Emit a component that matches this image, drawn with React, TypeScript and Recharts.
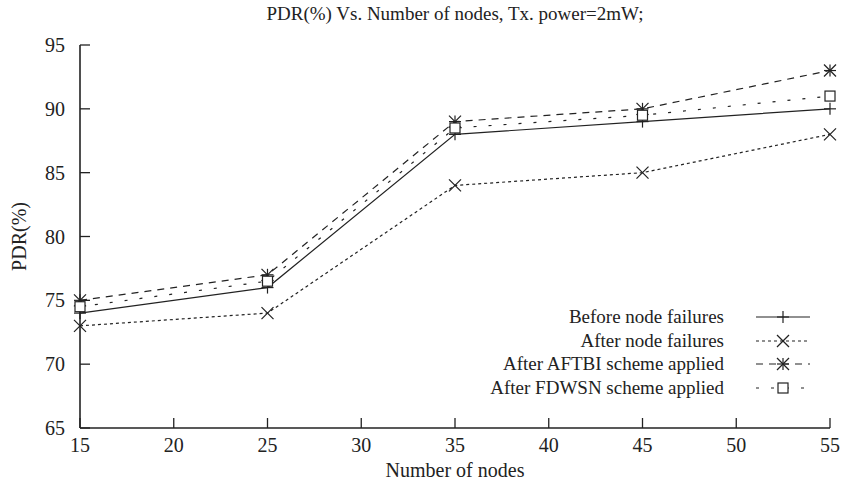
import React from "react";
import { Legend, Line, LineChart, XAxis, YAxis } from "recharts";

const nodes = [15, 25, 35, 45, 55];
const beforeFailures = [74, 76, 88, 89, 90];
const afterFailures = [73, 74, 84, 85, 88];
const afterAftbi = [75, 77, 89, 90, 93];
const afterFdwsn = [74.5, 76.5, 88.5, 89.5, 91];

const xTicks = [15, 20, 25, 30, 35, 40, 45, 50, 55];
const yTicks = [65, 70, 75, 80, 85, 90, 95];

const data = nodes.map((n, i) => ({
  n,
  before: beforeFailures[i],
  after: afterFailures[i],
  aftbi: afterAftbi[i],
  fdwsn: afterFdwsn[i],
}));

const FONT = "'Liberation Serif', 'Times New Roman', serif";
const INK = "#222";

type Kind = "plus" | "cross" | "star" | "square";

const series: { key: string; name: string; kind: Kind; dash?: string }[] = [
  { key: "before", name: "Before node failures", kind: "plus" },
  { key: "after", name: "After node failures", kind: "cross", dash: "3 3" },
  { key: "aftbi", name: "After AFTBI scheme applied", kind: "star", dash: "7 6" },
  { key: "fdwsn", name: "After FDWSN scheme applied", kind: "square", dash: "3 12" },
];

function Marker({ cx, cy, kind }: { cx: number; cy: number; kind: Kind }) {
  const s = 6;
  const st = { stroke: INK, strokeWidth: 1.2, fill: "none" };
  if (kind === "square")
    return <rect x={cx - 5} y={cy - 5} width={10} height={10} {...st} fill="#fff" />;
  const plus = (
    <>
      <line x1={cx - s} y1={cy} x2={cx + s} y2={cy} {...st} />
      <line x1={cx} y1={cy - s} x2={cx} y2={cy + s} {...st} />
    </>
  );
  const cross = (
    <>
      <line x1={cx - s} y1={cy - s} x2={cx + s} y2={cy + s} {...st} />
      <line x1={cx - s} y1={cy + s} x2={cx + s} y2={cy - s} {...st} />
    </>
  );
  return (
    <g>
      {kind !== "cross" && plus}
      {kind !== "plus" && cross}
    </g>
  );
}

const BottomTick = (p: any) => (
  <g>
    <line x1={p.x} y1={p.y} x2={p.x} y2={p.y - 10} stroke={INK} strokeWidth={1.3} />
    <text x={p.x} y={p.y + 24} textAnchor="middle" fontSize={20} fontFamily={FONT} fill={INK}>
      {p.payload.value}
    </text>
  </g>
);
const TopTick = (p: any) => (
  <line x1={p.x} y1={p.y} x2={p.x} y2={p.y + 10} stroke={INK} strokeWidth={1.3} />
);
const LeftTick = (p: any) => (
  <g>
    <line x1={p.x} y1={p.y} x2={p.x + 10} y2={p.y} stroke={INK} strokeWidth={1.3} />
    <text x={p.x - 15} y={p.y + 7} textAnchor="end" fontSize={20} fontFamily={FONT} fill={INK}>
      {p.payload.value}
    </text>
  </g>
);
const RightTick = (p: any) => (
  <line x1={p.x} y1={p.y} x2={p.x - 10} y2={p.y} stroke={INK} strokeWidth={1.3} />
);

function LegendBox() {
  return (
    <div style={{ fontFamily: FONT, fontSize: 19, color: INK }}>
      {series.map((s) => (
        <div
          key={s.key}
          style={{ display: "flex", alignItems: "center", height: 23.7, justifyContent: "flex-end" }}
        >
          <span style={{ marginRight: 32, whiteSpace: "nowrap" }}>{s.name}</span>
          <svg width={54} height={20} style={{ display: "block" }}>
            <line x1={0} y1={10} x2={54} y2={10} stroke={INK} strokeWidth={1.2} strokeDasharray={s.dash} />
            <Marker cx={27} cy={10} kind={s.kind} />
          </svg>
        </div>
      ))}
    </div>
  );
}

export default function App() {
  return (
    <div style={{ position: "absolute", left: 0, top: 0, width: 841, height: 481, background: "#fff" }}>
      <div
        style={{
          position: "absolute",
          left: 80,
          width: 750,
          top: 3,
          textAlign: "center",
          fontFamily: FONT,
          fontSize: 19,
          color: INK,
        }}
      >
        PDR(%) Vs. Number of nodes, Tx. power=2mW;
      </div>
      <LineChart width={841} height={481} data={data} margin={{ top: 45, right: 11, left: 0, bottom: 0 }}>
        <XAxis
          xAxisId="b"
          dataKey="n"
          type="number"
          domain={[15, 55]}
          ticks={xTicks}
          height={53}
          tickSize={0}
          tickMargin={0}
          tickLine={false}
          tick={BottomTick}
          axisLine={{ stroke: INK, strokeWidth: 1.6 }}
          label={{
            value: "Number of nodes",
            position: "insideBottom",
            offset: 4,
            fontSize: 20,
            fontFamily: FONT,
            fill: INK,
          }}
        />
        <XAxis
          xAxisId="t"
          orientation="top"
          dataKey="n"
          type="number"
          domain={[15, 55]}
          ticks={xTicks}
          height={0}
          tickSize={0}
          tickMargin={0}
          tickLine={false}
          tick={TopTick}
          axisLine={{ stroke: INK, strokeWidth: 1.6 }}
        />
        <YAxis
          yAxisId="l"
          type="number"
          domain={[65, 95]}
          ticks={yTicks}
          width={80}
          tickSize={0}
          tickMargin={0}
          tickLine={false}
          tick={LeftTick}
          axisLine={{ stroke: INK, strokeWidth: 1.6 }}
          label={{
            content: (props: any) => {
              const vb = props.viewBox;
              const cy = vb.y + vb.height / 2;
              return (
                <text
                  x={21}
                  y={cy}
                  transform={`rotate(-90 21 ${cy})`}
                  textAnchor="middle"
                  dominantBaseline="middle"
                  fontSize={20}
                  fontFamily={FONT}
                  fill={INK}
                >
                  PDR(%)
                </text>
              );
            },
          }}
        />
        <YAxis
          yAxisId="r"
          orientation="right"
          type="number"
          domain={[65, 95]}
          ticks={yTicks}
          width={0}
          tickSize={0}
          tickMargin={0}
          tickLine={false}
          tick={RightTick}
          axisLine={{ stroke: INK, strokeWidth: 1.6 }}
        />
        {series.map((s) => (
          <Line
            key={s.key}
            xAxisId="b"
            yAxisId="l"
            dataKey={s.key}
            name={s.name}
            type="linear"
            stroke={INK}
            strokeWidth={1.2}
            strokeDasharray={s.dash}
            isAnimationActive={false}
            dot={(d: any) => <Marker key={`${s.key}-${d.index}`} cx={d.cx} cy={d.cy} kind={s.kind} />}
            activeDot={false}
          />
        ))}
        <Legend
          layout="vertical"
          align="center"
          verticalAlign="middle"
          content={() => <LegendBox />}
          wrapperStyle={{ left: 430, top: 305, width: 380, height: 100 }}
        />
      </LineChart>
    </div>
  );
}
